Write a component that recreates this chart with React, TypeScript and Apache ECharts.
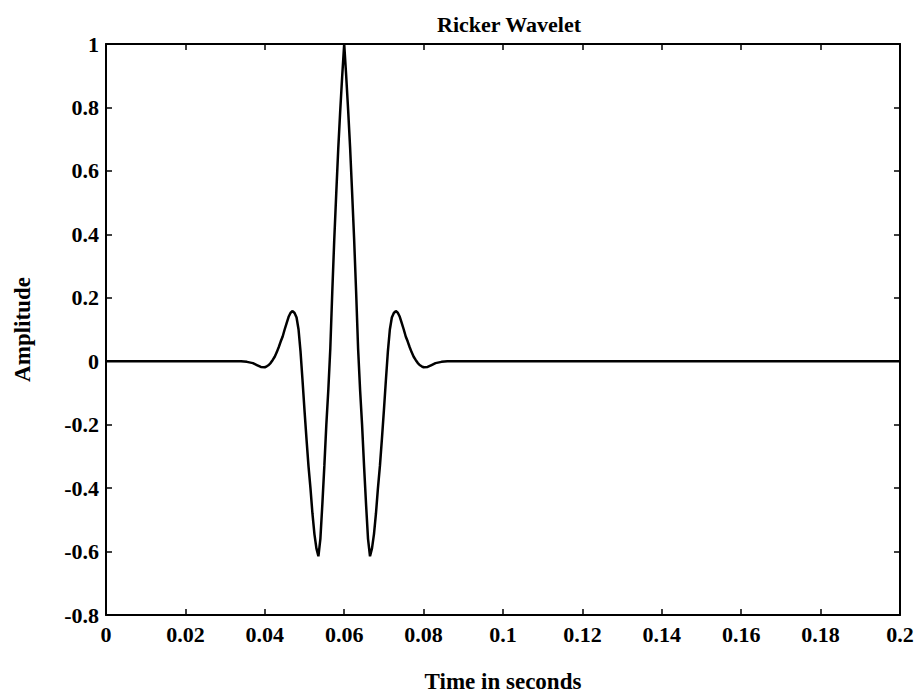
import React, { useEffect, useRef } from "react";
import * as echarts from "echarts";

const chartTitle = "Ricker Wavelet";
const xAxisName = "Time in seconds";
const yAxisName = "Amplitude";

const xMin = 0;
const xMax = 0.2;
const xStep = 0.02;
const yMin = -0.8;
const yMax = 1;
const yStep = 0.2;

// time (s)
const timeValues: number[] = [
  0, 0.03, 0.034, 0.0355, 0.037, 0.038, 0.039, 0.04, 0.0405, 0.041, 0.0415,
  0.042, 0.0425, 0.043, 0.0435, 0.044, 0.0445, 0.045, 0.0455, 0.046, 0.0465,
  0.047, 0.0475, 0.048, 0.0485, 0.049, 0.0495, 0.05, 0.0505, 0.051, 0.0515,
  0.052, 0.0525, 0.053, 0.0535, 0.054, 0.0545, 0.055, 0.0555, 0.056, 0.0565,
  0.057, 0.0575, 0.058, 0.0585, 0.059, 0.0595, 0.06, 0.0605, 0.061, 0.0615,
  0.062, 0.0625, 0.063, 0.0635, 0.064, 0.0645, 0.065, 0.0655, 0.066, 0.0665,
  0.067, 0.0675, 0.068, 0.0685, 0.069, 0.0695, 0.07, 0.0705, 0.071, 0.0715,
  0.072, 0.0725, 0.073, 0.0735, 0.074, 0.0745, 0.075, 0.0755, 0.076, 0.0765,
  0.077, 0.0775, 0.078, 0.0785, 0.079, 0.0795, 0.08, 0.081, 0.082, 0.083,
  0.0845, 0.086, 0.1, 0.15, 0.2,
];

// amplitude
const amplitudeValues: number[] = [
  0, 0, 0, -0.002, -0.006, -0.012, -0.018, -0.019, -0.016, -0.012, -0.005,
  0.004, 0.014, 0.028, 0.044, 0.062, 0.078, 0.1, 0.12, 0.14, 0.153,
  0.158, 0.152, 0.138, 0.1, 0.03, -0.06, -0.155, -0.245, -0.33, -0.4,
  -0.48, -0.545, -0.59, -0.615, -0.56, -0.45, -0.33, -0.2, -0.09, 0.04,
  0.22, 0.385, 0.53, 0.67, 0.79, 0.9, 1.0, 0.9, 0.79, 0.67,
  0.53, 0.385, 0.22, 0.04, -0.09, -0.2, -0.33, -0.45, -0.56, -0.615,
  -0.59, -0.545, -0.48, -0.4, -0.33, -0.245, -0.155, -0.06, 0.03, 0.1,
  0.138, 0.152, 0.158, 0.153, 0.14, 0.12, 0.1, 0.078, 0.062, 0.044,
  0.028, 0.014, 0.004, -0.005, -0.012, -0.016, -0.019, -0.018, -0.012, -0.006,
  -0.002, 0, 0, 0, 0,
];

const FONT = "'Liberation Serif', 'DejaVu Serif', serif";

const fmt = (v: number) => String(parseFloat(Number(v).toFixed(3)));

export default function App() {
  const ref = useRef<HTMLDivElement | null>(null);

  useEffect(() => {
    if (!ref.current) return;
    const chart = echarts.init(ref.current, undefined, { renderer: "svg" });
    const data = timeValues.map((t, i) => [t, amplitudeValues[i]]);

    const axisLine = { show: true, onZero: false, lineStyle: { color: "#000", width: 2 } };
    const tick = { show: true, inside: true, length: 6, lineStyle: { color: "#000", width: 1.5 } };
    const label = {
      color: "#000",
      fontFamily: FONT,
      fontWeight: "bold" as const,
      fontSize: 22,
      formatter: fmt,
    };
    const nameStyle = { color: "#000", fontFamily: FONT, fontWeight: "bold" as const, fontSize: 23 };

    chart.setOption({
      animation: false,
      backgroundColor: "#fff",
      title: {
        text: chartTitle,
        left: 504,
        textAlign: "center",
        top: 8,
        textStyle: { color: "#000", fontFamily: FONT, fontWeight: "bold", fontSize: 22 },
      },
      grid: { left: 106, right: 19, top: 44, bottom: 81, containLabel: false, outerBoundsMode: "none" },
      xAxis: [
        {
          type: "value",
          min: xMin,
          max: xMax,
          interval: xStep,
          position: "bottom",
          axisLine,
          axisTick: tick,
          splitLine: { show: false },
          axisLabel: { ...label, margin: 8 },
          name: xAxisName,
          nameLocation: "middle",
          nameGap: 55,
          nameTextStyle: nameStyle,
        },
        {
          type: "value",
          min: xMin,
          max: xMax,
          interval: xStep,
          position: "top",
          axisLine,
          axisTick: tick,
          splitLine: { show: false },
          axisLabel: { show: false },
        },
      ],
      yAxis: [
        {
          type: "value",
          min: yMin,
          max: yMax,
          interval: yStep,
          position: "left",
          axisLine,
          axisTick: tick,
          splitLine: { show: false },
          axisLabel: { ...label, margin: 7 },
          name: yAxisName,
          nameLocation: "middle",
          nameGap: 72,
          nameTextStyle: nameStyle,
        },
        {
          type: "value",
          min: yMin,
          max: yMax,
          interval: yStep,
          position: "right",
          axisLine,
          axisTick: tick,
          splitLine: { show: false },
          axisLabel: { show: false },
        },
      ],
      series: [
        {
          type: "line",
          xAxisIndex: 0,
          yAxisIndex: 0,
          data,
          showSymbol: false,
          symbol: "none",
          smooth: false,
          lineStyle: { color: "#000", width: 2.5 },
        },
      ],
    });

    return () => chart.dispose();
  }, []);

  return (
    <div
      ref={ref}
      style={{ position: "fixed", left: 0, top: 0, width: 919, height: 696, background: "#fff" }}
    />
  );
}
